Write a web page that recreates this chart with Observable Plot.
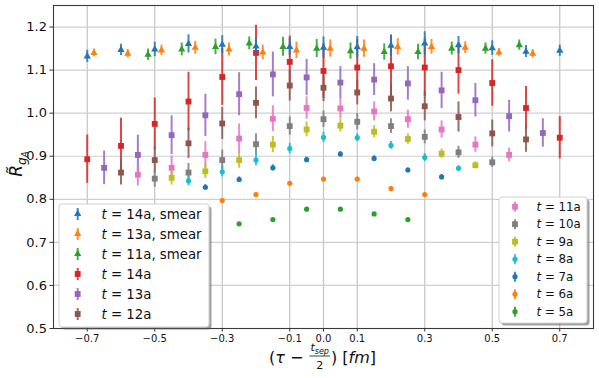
<!DOCTYPE html>
<html>
<head>
<meta charset="utf-8">
<script src="https://cdn.jsdelivr.net/npm/d3@7"></script>
<script src="https://cdn.jsdelivr.net/npm/@observablehq/plot@0.6"></script>
<style>
  html, body { margin: 0; padding: 0; background: #fff; }
  #chart svg { display: block; font-family: "DejaVu Sans", sans-serif; }
</style>
</head>
<body>
<div id="chart"></div>
<script>
// ---------- data ----------
const xTicks = [-0.7, -0.5, -0.3, -0.1, 0.0, 0.1, 0.3, 0.5, 0.7];
const yTicks = [0.5, 0.6, 0.7, 0.8, 0.9, 1.0, 1.1, 1.2];

// t = 14a
const tau14 = [-0.7,-0.6,-0.5,-0.4,-0.3,-0.2,-0.1,0.0,0.1,0.2,0.3,0.4,0.5,0.6,0.7];
const r14   = [0.893,0.924,0.975,1.027,1.084,1.140,1.119,1.098,1.106,1.109,1.106,1.100,1.070,1.012,0.943];
const e14   = [0.056,0.064,0.060,0.068,0.066,0.064,0.060,0.064,0.065,0.070,0.067,0.056,0.054,0.050,0.049];
// t = 13a
const tau13 = [-0.65,-0.55,-0.45,-0.35,-0.25,-0.15,-0.05,0.05,0.15,0.25,0.35,0.45,0.55,0.65];
const r13   = [0.873,0.903,0.949,0.995,1.044,1.090,1.083,1.071,1.078,1.069,1.053,1.030,0.993,0.954];
const e13   = [0.039,0.046,0.045,0.049,0.050,0.052,0.042,0.037,0.037,0.039,0.042,0.039,0.037,0.033];
// t = 12a
const tau12 = [-0.6,-0.5,-0.4,-0.3,-0.2,-0.1,0.0,0.1,0.2,0.3,0.4,0.5,0.6];
const r12   = [0.862,0.891,0.930,0.976,1.024,1.064,1.059,1.048,1.034,1.016,0.991,0.953,0.939];
const e12   = [0.029,0.030,0.035,0.037,0.037,0.036,0.032,0.029,0.031,0.034,0.035,0.031,0.030];
// t = 11a
const tau11 = [-0.55,-0.45,-0.35,-0.25,-0.15,-0.05,0.05,0.15,0.25,0.35,0.45,0.55];
const r11   = [0.857,0.873,0.903,0.941,0.987,1.012,1.011,1.004,0.986,0.962,0.927,0.903];
const e11   = [0.026,0.028,0.031,0.034,0.030,0.026,0.024,0.022,0.021,0.020,0.018,0.016];
// t = 10a
const tau10 = [-0.5,-0.4,-0.3,-0.2,-0.1,0.0,0.1,0.2,0.3,0.4,0.5];
const r10   = [0.848,0.862,0.891,0.928,0.970,0.986,0.980,0.970,0.945,0.909,0.886];
const e10   = [0.020,0.021,0.023,0.024,0.021,0.019,0.019,0.017,0.016,0.014,0.012];
// t = 9a
const tau9 = [-0.45,-0.35,-0.25,-0.15,-0.05,0.05,0.15,0.25,0.35,0.45];
const r9   = [0.850,0.865,0.891,0.927,0.962,0.971,0.957,0.940,0.906,0.879];
const e9   = [0.017,0.017,0.019,0.019,0.017,0.015,0.014,0.012,0.011,0.008];
// t = 8a
const tau8 = [-0.4,-0.3,-0.2,-0.1,0.0,0.1,0.2,0.3,0.4];
const r8   = [0.843,0.864,0.891,0.918,0.944,0.943,0.925,0.897,0.872];
const e8   = [0.012,0.012,0.013,0.012,0.012,0.009,0.009,0.009,0.006];
// t = 7a
const tau7 = [-0.35,-0.25,-0.15,-0.05,0.05,0.15,0.25,0.35];
const r7   = [0.828,0.846,0.873,0.892,0.905,0.895,0.868,0.852];
const e7   = [0.006,0.006,0.007,0.006,0.006,0.006,0.005,0.005];
// t = 6a
const tau6 = [-0.3,-0.2,-0.1,0.0,0.1,0.2,0.3];
const r6   = [0.797,0.811,0.837,0.847,0.847,0.825,0.811];
const e6   = [0.004,0.004,0.004,0.004,0.004,0.004,0.004];
// t = 5a
const tau5 = [-0.25,-0.15,-0.05,0.05,0.15,0.25];
const r5   = [0.743,0.753,0.777,0.777,0.766,0.753];
const e5   = [0.003,0.003,0.003,0.003,0.003,0.003];
// t = 14a, smear
const tauS14 = [-0.7,-0.6,-0.5,-0.4,-0.3,-0.2,-0.1,0.0,0.1,0.2,0.3,0.4,0.5,0.6,0.7];
const rS14   = [1.132,1.147,1.148,1.161,1.159,1.155,1.154,1.152,1.153,1.157,1.162,1.158,1.151,1.143,1.145];
const eS14   = [0.014,0.013,0.017,0.021,0.021,0.018,0.020,0.025,0.025,0.025,0.027,0.020,0.017,0.014,0.013];
// t = 13a, smear
const tauS13 = [-0.68,-0.58,-0.48,-0.38,-0.28,-0.18,-0.08,0.02,0.12,0.22,0.32,0.42,0.52,0.62];
const rS13   = [1.140,1.138,1.146,1.152,1.148,1.141,1.146,1.150,1.150,1.154,1.154,1.152,1.141,1.138];
const eS13   = [0.009,0.010,0.012,0.015,0.015,0.017,0.019,0.020,0.020,0.019,0.017,0.014,0.009,0.010];
// t = 11a, smear
const tauS11 = [-0.52,-0.42,-0.32,-0.22,-0.12,-0.02,0.08,0.18,0.28,0.38,0.48,0.58];
const rS11   = [1.136,1.148,1.154,1.162,1.154,1.150,1.144,1.142,1.142,1.150,1.150,1.158];
const eS11   = [0.013,0.015,0.018,0.015,0.022,0.021,0.019,0.019,0.018,0.015,0.013,0.012];

const seriesNames = ["t = 14a, smear","t = 13a, smear","t = 11a, smear","t = 14a","t = 13a","t = 12a","t = 11a","t = 10a","t = 9a","t = 8a","t = 7a","t = 6a","t = 5a"];
const seriesColors = ["#1f77b4","#ff7f0e","#2ca02c","#d62728","#9467bd","#8c564b","#e377c2","#7f7f7f","#bcbd22","#17becf","#1f77b4","#ff7f0e","#2ca02c"];
const seriesSymbols = ["triangle","triangle","triangle","square","square","square","square","square","square","circle","circle","circle","circle"];

// ---------- build ----------
const raw = [
  [tauS14, rS14, eS14], [tauS13, rS13, eS13], [tauS11, rS11, eS11],
  [tau14, r14, e14], [tau13, r13, e13], [tau12, r12, e12], [tau11, r11, e11],
  [tau10, r10, e10], [tau9, r9, e9], [tau8, r8, e8], [tau7, r7, e7], [tau6, r6, e6], [tau5, r5, e5]
];
const series = raw.map(([xs, ys, es], i) => ({
  name: seriesNames[i], color: seriesColors[i], symbol: seriesSymbols[i],
  data: xs.map((x, j) => ({x, y: ys[j], e: es[j]}))
}));

const symR = {triangle: 2.7, square: 3.3, circle: 2.6};
function seriesMarks(s) {
  return [
    Plot.ruleX(s.data, {x: "x", y1: d => d.y - d.e, y2: d => d.y + d.e, stroke: s.color, strokeWidth: 2, strokeOpacity: 0.85}),
    Plot.dot(s.data, {x: "x", y: "y", symbol: s.symbol, r: symR[s.symbol], fill: s.color, stroke: "none"})
  ];
}
// draw order: plain series first, smeared ones on top
const order = [3,4,5,6,7,8,9,10,11,12,0,1,2];

const chart = Plot.plot({
  width: 599, height: 378,
  marginLeft: 53, marginRight: 6, marginTop: 5, marginBottom: 50,
  x: {domain: [-0.8, 0.8], label: null},
  y: {domain: [0.5, 1.25], label: null},
  marks: [
    Plot.gridX(xTicks, {stroke: "#c4c4c4", strokeOpacity: 1, strokeWidth: 1.2}),
    Plot.gridY(yTicks, {stroke: "#cfcfcf", strokeOpacity: 1, strokeWidth: 1.2}),
    ...order.flatMap(i => seriesMarks(series[i])),
    Plot.frame({stroke: "#3a3a3a", strokeWidth: 1.1}),
    Plot.axisX(xTicks, {tickSize: 3.5, tickPadding: 3, fontSize: 10, tickFormat: d3.format(".1f"), label: null, stroke: "#333", fill: "#111"}),
    Plot.axisY(yTicks, {tickSize: 3.5, tickPadding: 3, fontSize: 13, tickFormat: d3.format(".1f"), label: null, stroke: "#333", fill: "#111"})
  ]
});
document.getElementById("chart").append(chart);

// ---------- labels & legends ----------
const svg = d3.select(chart);
const FONT = "DejaVu Sans";

// y label
const yl = svg.append("text")
  .attr("transform", "translate(22,164) rotate(-90)")
  .attr("text-anchor", "middle")
  .attr("font-family", FONT).attr("font-size", 17).attr("fill", "#111");
yl.append("tspan").attr("font-style", "italic").text("R\u0303");
yl.append("tspan").attr("font-style", "italic").attr("font-size", 12).attr("dy", 3.5).text("g");
yl.append("tspan").attr("font-style", "italic").attr("font-size", 9).attr("dy", 2.5).text("A");

// x label with fraction
const xg = svg.append("g").attr("font-family", FONT).attr("fill", "#111");
const baseY = 363;
const p1 = xg.append("text").attr("y", baseY).attr("font-size", 16).attr("text-anchor", "start");
p1.append("tspan").text("(");
p1.append("tspan").attr("font-style", "italic").text("\u03C4");
p1.append("tspan").text(" \u2212 ");
const w1 = p1.node().getComputedTextLength();
const num = xg.append("text").attr("y", 351).attr("font-size", 11).attr("text-anchor", "start");
num.append("tspan").attr("font-style", "italic").text("t");
num.append("tspan").attr("font-style", "italic").attr("font-size", 8).attr("dy", 2.5).text("sep");
const wn = num.node().getComputedTextLength();
const den = xg.append("text").attr("y", 369).attr("font-size", 11).attr("text-anchor", "middle").text("2");
const fw = wn + 2;
const p2 = xg.append("text").attr("y", baseY).attr("font-size", 16).attr("text-anchor", "start");
p2.append("tspan").text(") [");
p2.append("tspan").attr("font-style", "italic").text("fm");
p2.append("tspan").text("]");
const w2 = p2.node().getComputedTextLength();
const total = w1 + 1 + fw + 1 + w2;
const x0 = 322.5 - total / 2;
p1.attr("x", x0);
const fx = x0 + w1 + 1;
num.attr("x", fx + 1);
den.attr("x", fx + fw / 2);
xg.append("line").attr("x1", fx).attr("x2", fx + fw).attr("y1", 356).attr("y2", 356).attr("stroke", "#111").attr("stroke-width", 0.8);
p2.attr("x", fx + fw + 1);

function legend(x, y, w, h, idxs, rowY0, rowDy, mx, tx, fs, bar) {
  const g = svg.append("g");
  g.append("rect").attr("x", x + 2.5).attr("y", y + 2.5).attr("width", w).attr("height", h)
    .attr("rx", 3).attr("fill", "#555").attr("fill-opacity", 0.55);
  g.append("rect").attr("x", x).attr("y", y).attr("width", w).attr("height", h)
    .attr("rx", 3).attr("fill", "#fff").attr("stroke", "#d0d0d0").attr("stroke-width", 1);
  idxs.forEach((si, k) => {
    const s = series[si];
    const cy = rowY0 + k * rowDy;
    g.append("line").attr("x1", mx).attr("x2", mx).attr("y1", cy - bar).attr("y2", cy + bar)
      .attr("stroke", s.color).attr("stroke-width", 2).attr("stroke-opacity", 0.85);
    const sym = {triangle: d3.symbolTriangle, square: d3.symbolSquare, circle: d3.symbolCircle}[s.symbol];
    const rr = symR[s.symbol];
    g.append("path").attr("transform", `translate(${mx},${cy})`)
      .attr("d", d3.symbol(sym, Math.PI * rr * rr)()).attr("fill", s.color);
    const t = g.append("text").attr("x", tx).attr("y", cy).attr("dy", "0.36em")
      .attr("text-anchor", "start")
      .attr("font-family", FONT).attr("font-size", fs).attr("fill", "#111");
    t.append("tspan").attr("font-style", "italic").text("t");
    t.append("tspan").text(s.name.slice(1));
  });
}
legend(59, 204, 150, 123, [0,1,2,3,4,5], 214, 20, 77.7, 101.5, 13.3, 6);
legend(499, 197, 88, 126, [6,7,8,9,10,11,12], 206.7, 17.5, 515, 536.5, 11.8, 5);
</script>
</body>
</html>
